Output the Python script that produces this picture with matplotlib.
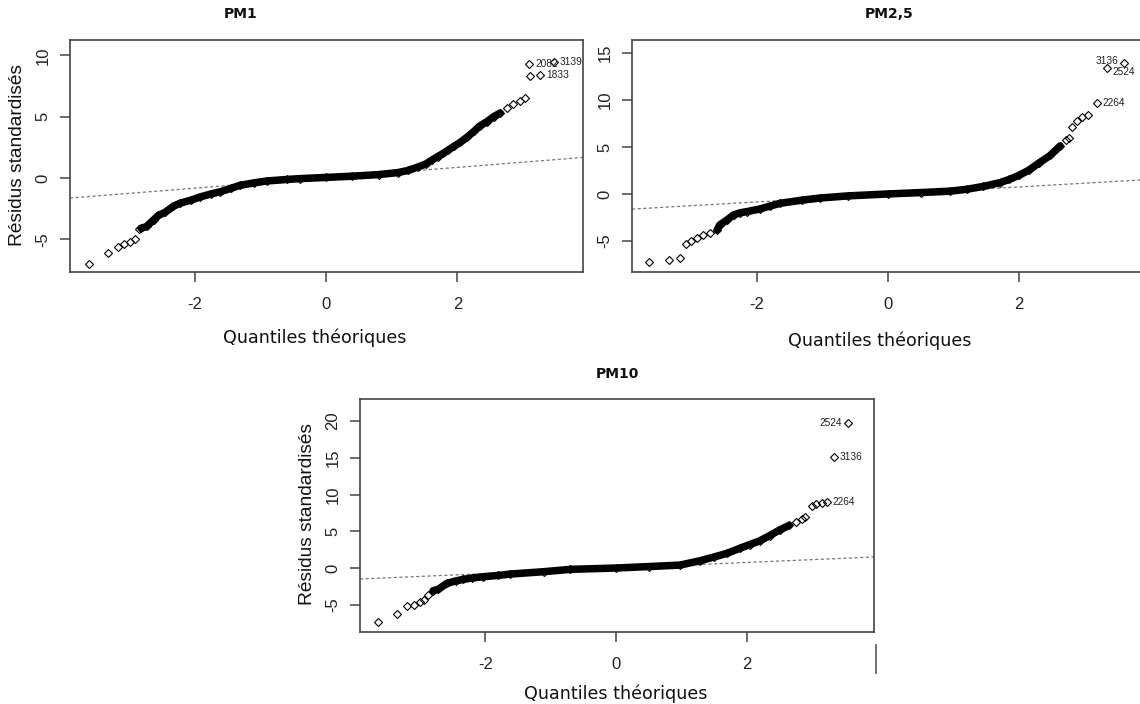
import matplotlib
matplotlib.use('Agg')
import matplotlib.pyplot as plt
from matplotlib.lines import Line2D

plt.rcParams['font.family'] = 'Liberation Sans'
plt.rcParams['axes.unicode_minus'] = False

W, H = 1140, 704

# ---- PM1 (theoretical quantile, standardized residual) ----
pm1_low_q = [-3.61, -3.31, -3.17, -3.08, -2.98, -2.90, -2.85]
pm1_low_r = [-7.0, -6.1, -5.65, -5.35, -5.25, -4.93, -4.19]
pm1_core_q = [-2.81, -2.73, -2.62, -2.55, -2.45, -2.32, -2.22, -2.05, -1.92, -1.75,
              -1.61, -1.45, -1.31, -1.10, -0.90, -0.60, -0.40, 0.0, 0.40, 0.80,
              1.09, 1.25, 1.40, 1.52, 1.61, 1.70, 1.78, 1.86, 1.95, 2.04,
              2.15, 2.25, 2.34, 2.45, 2.55, 2.65]
pm1_core_r = [-4.1, -3.95, -3.4, -3.05, -2.8, -2.3, -2.05, -1.8, -1.55, -1.3,
              -1.12, -0.85, -0.6, -0.4, -0.24, -0.12, -0.05, 0.05, 0.15, 0.28,
              0.44, 0.62, 0.9, 1.15, 1.46, 1.75, 2.0, 2.28, 2.6, 2.9,
              3.35, 3.8, 4.25, 4.6, 5.0, 5.3]
pm1_high_q = [2.75, 2.85, 2.95, 3.02, 3.10, 3.095, 3.26, 3.475]
pm1_high_r = [5.7, 6.0, 6.3, 6.5, 8.3, 9.29, 8.39, 9.45]
pm1_lab_q = [3.095, 3.26, 3.475]
pm1_lab_r = [9.29, 8.39, 9.45]
pm1_lab_txt = ['2082', '1833', '3139']
pm1_lab_side = ['right', 'right', 'right']
pm1_lab_dy = [0, 0, 0]
pm1_line = (0.02, 0.424)   # intercept, slope

# ---- PM2,5 ----
pm25_low_q = [-3.63, -3.33, -3.17, -3.08, -2.99, -2.91, -2.81, -2.71]
pm25_low_r = [-7.27, -7.0, -6.8, -5.3, -4.97, -4.7, -4.36, -4.18]
pm25_core_q = [-2.60, -2.56, -2.45, -2.35, -2.25, -2.15, -1.95, -1.80, -1.64, -1.30,
               -1.03, -0.60, 0.0, 0.50, 0.95, 1.20, 1.45, 1.70, 1.85, 2.00,
               2.15, 2.30, 2.47, 2.62]
pm25_core_r = [-3.83, -3.3, -2.77, -2.23, -2.0, -1.88, -1.6, -1.3, -0.99, -0.65,
               -0.43, -0.2, 0.0, 0.15, 0.3, 0.5, 0.8, 1.2, 1.55, 2.0,
               2.55, 3.3, 4.1, 5.1]
pm25_high_q = [2.71, 2.76, 2.80, 2.88, 2.95, 3.05, 3.18, 3.33, 3.59]
pm25_high_r = [5.7, 6.0, 7.1, 7.8, 8.2, 8.4, 9.7, 13.37, 13.97]
pm25_lab_q = [3.18, 3.33, 3.59]
pm25_lab_r = [9.7, 13.37, 13.97]
pm25_lab_txt = ['2264', '2524', '3136']
pm25_lab_side = ['right', 'right', 'left']
pm25_lab_dy = [0, -3, 1]
pm25_line = (-0.05, 0.40)

# ---- PM10 ----
pm10_low_q = [-3.65, -3.35, -3.20, -3.10, -3.00, -2.94, -2.88]
pm10_low_r = [-7.4, -6.2, -5.17, -5.03, -4.58, -4.35, -3.67]
pm10_core_q = [-2.80, -2.72, -2.59, -2.45, -2.34, -2.20, -2.03, -1.80, -1.62, -1.11,
               -0.70, 0.0, 0.50, 0.98, 1.29, 1.50, 1.70, 1.90, 2.05, 2.20,
               2.35, 2.51, 2.65]
pm10_core_r = [-3.08, -2.9, -2.08, -1.75, -1.54, -1.35, -1.18, -1.0, -0.82, -0.5,
               -0.18, 0.0, 0.2, 0.4, 1.0, 1.5, 2.0, 2.7, 3.2, 3.7,
               4.4, 5.2, 5.8]
pm10_high_q = [2.75, 2.84, 2.89, 3.00, 3.06, 3.15, 3.23, 3.33, 3.55]
pm10_high_r = [6.2, 6.7, 7.0, 8.4, 8.7, 8.9, 9.0, 15.1, 19.7]
pm10_lab_q = [3.23, 3.33, 3.55]
pm10_lab_r = [9.0, 15.1, 19.7]
pm10_lab_txt = ['2264', '3136', '2524']
pm10_lab_side = ['right', 'right', 'left']
pm10_lab_dy = [0, 0, 0]
pm10_line = (0.0, 0.38)

x_ticks = [-2, 0, 2]
xlabel = 'Quantiles théoriques'
ylabel = 'Résidus standardisés'

fig = plt.figure(figsize=(W / 100, H / 100), dpi=100)
fig.patch.set_facecolor('white')


def px_axes(left, top, right, bottom):
    return fig.add_axes([left / W, 1 - bottom / H, (right - left) / W, (bottom - top) / H])


def ftext(x, y, s, **kw):
    fig.text(x / W, 1 - y / H, s, **kw)


def draw_panel(ax, xlim, ylim, yticks, low_q, low_r, core_q, core_r, high_q, high_r,
               lab_q, lab_r, lab_txt, lab_side, lab_dy, line):
    mk = dict(marker='D', mfc='none', mec='black', ms=3.6, mew=0.8, ls='none')
    ax.plot(core_q, core_r, color='black', lw=5.4, solid_capstyle='round', zorder=2)
    ax.plot(core_q, core_r, zorder=3, **mk)
    ax.plot(low_q, low_r, zorder=3, **mk)
    ax.plot(high_q, high_r, zorder=3, **mk)
    ax.axline((0, line[0]), slope=line[1], color='#777777', lw=0.9,
              ls=(0, (2.5, 2)), zorder=1)
    for q, r, t, side, dy in zip(lab_q, lab_r, lab_txt, lab_side, lab_dy):
        off = 4 if side == 'right' else -4
        ax.annotate(t, (q, r), xytext=(off, dy), textcoords='offset points',
                    ha='left' if side == 'right' else 'right', va='center',
                    fontsize=7.3, color='#222222')
    ax.set_xlim(*xlim)
    ax.set_ylim(*ylim)
    ax.set_xticks(x_ticks)
    ax.set_yticks(yticks)
    for s in ax.spines.values():
        s.set_color('#444444')
        s.set_linewidth(1.2)
    ax.tick_params(axis='both', direction='out', length=7, width=1.1, color='#444444',
                   labelsize=12, labelcolor='#222222')
    ax.tick_params(axis='x', pad=11)
    ax.tick_params(axis='y', pad=7)
    for lb in ax.get_yticklabels():
        lb.set_rotation(90)
        lb.set_va('center')
        lb.set_ha('right')


ax1 = px_axes(70, 40, 583, 272)
draw_panel(ax1, (-3.894, 3.909), (-7.66, 11.25), [-5, 0, 5, 10],
           pm1_low_q, pm1_low_r, pm1_core_q, pm1_core_r, pm1_high_q, pm1_high_r,
           pm1_lab_q, pm1_lab_r, pm1_lab_txt, pm1_lab_side, pm1_lab_dy, pm1_line)

ax2 = px_axes(632, 40, 1144, 272)
draw_panel(ax2, (-3.895, 3.898), (-8.3, 16.38), [-5, 0, 5, 10, 15],
           pm25_low_q, pm25_low_r, pm25_core_q, pm25_core_r, pm25_high_q, pm25_high_r,
           pm25_lab_q, pm25_lab_r, pm25_lab_txt, pm25_lab_side, pm25_lab_dy, pm25_line)

ax3 = px_axes(360, 399, 874, 632)
draw_panel(ax3, (-3.92, 3.95), (-8.7, 22.99), [-5, 0, 5, 10, 15, 20],
           pm10_low_q, pm10_low_r, pm10_core_q, pm10_core_r, pm10_high_q, pm10_high_r,
           pm10_lab_q, pm10_lab_r, pm10_lab_txt, pm10_lab_side, pm10_lab_dy, pm10_line)

# titles
tkw = dict(fontsize=10, fontweight='bold', family='DejaVu Sans', ha='center', va='center',
           color='#111111')
ftext(241, 14, 'PM1', **tkw)
ftext(889, 14, 'PM2,5', **tkw)
ftext(617, 374, 'PM10', **tkw)

# axis labels
lkw = dict(fontsize=12.6, family='DejaVu Sans', ha='center', va='center', color='#111111')
ftext(315, 338, xlabel, **lkw)
ftext(880, 341, xlabel, **lkw)
ftext(616, 694, xlabel, **lkw)
ykw = dict(fontsize=13.8, ha='center', va='center', rotation=90, color='#111111')
ftext(18, 155, ylabel, **ykw)
ftext(308, 514, ylabel, **ykw)

# stray mark below the PM10 panel
fig.add_artist(Line2D([876 / W, 876 / W], [1 - 645 / H, 1 - 673 / H],
                      color='#555555', lw=1.2))

fig.savefig('out.png', dpi=100)
